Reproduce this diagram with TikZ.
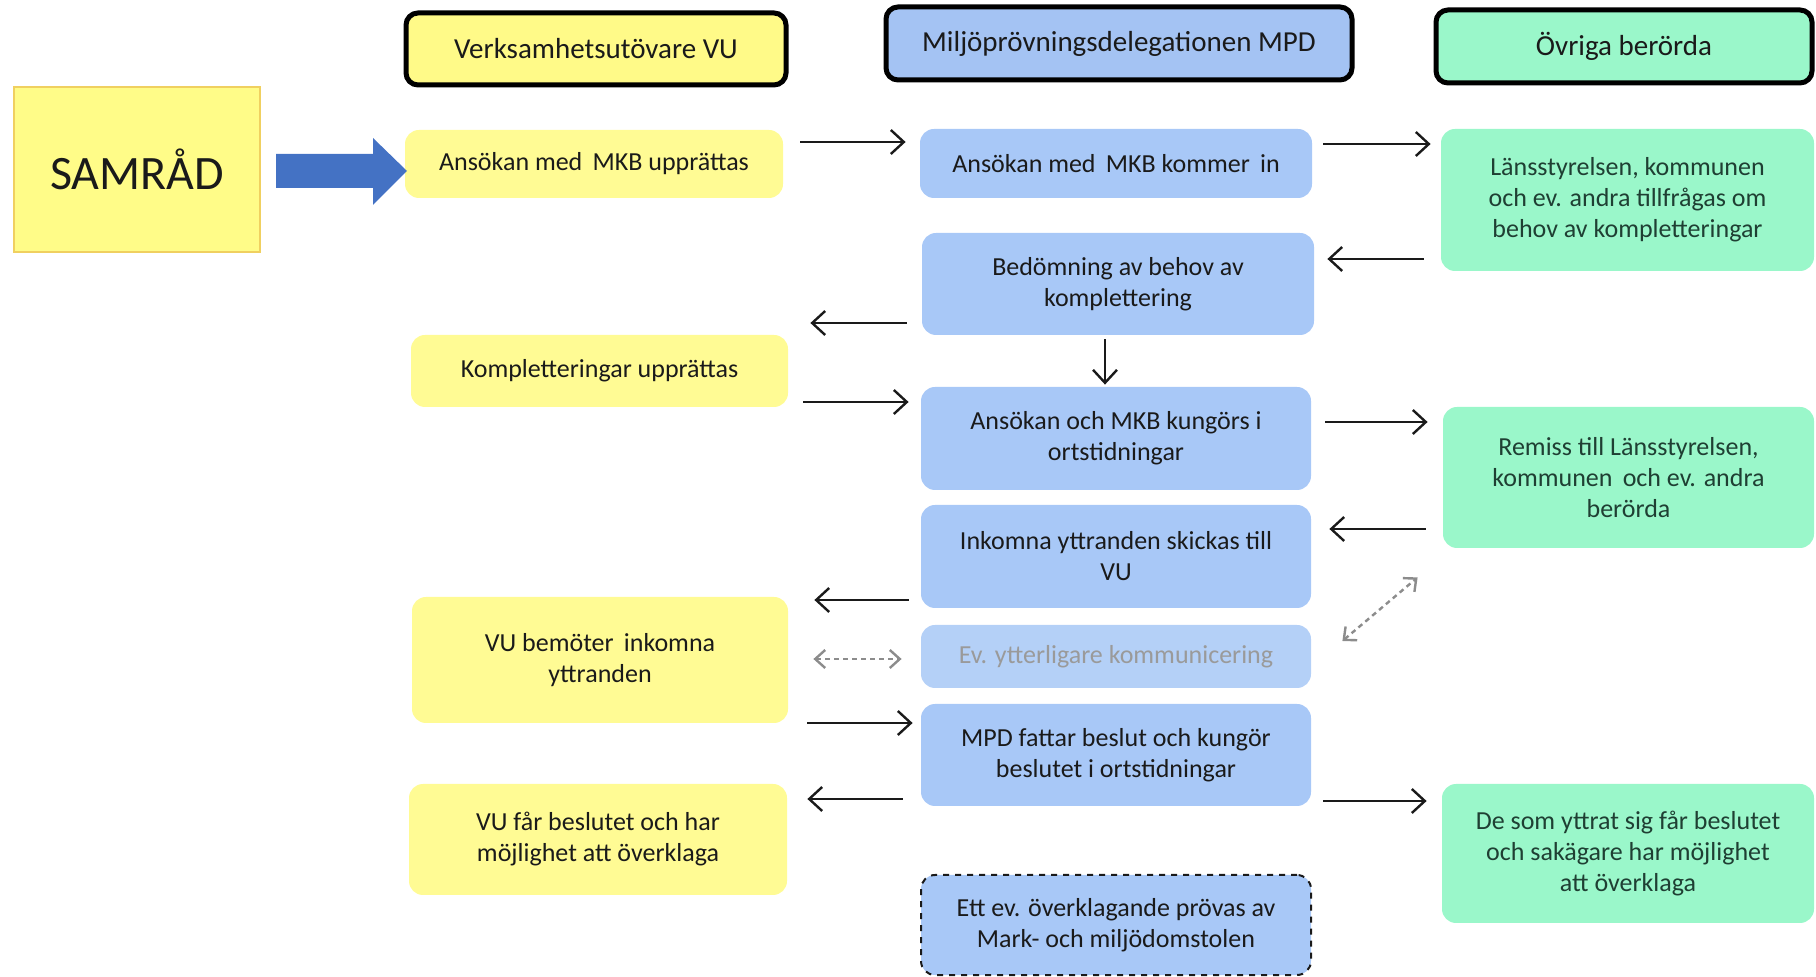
\documentclass[tikz,border=0pt]{standalone}
\usepackage{fontspec}
\setmainfont{Carlito}
\usetikzlibrary{arrows.meta}
\definecolor{yel}{HTML}{FFFB94}
\definecolor{yelh}{HTML}{FFFA88}
\definecolor{samf}{HTML}{FFFC88}
\definecolor{samd}{HTML}{F0D060}
\definecolor{blu}{HTML}{A8C8F7}
\definecolor{bluh}{HTML}{A4C3F3}
\definecolor{blul}{HTML}{B4D0F7}
\definecolor{grn}{HTML}{9AF7CA}
\definecolor{txt}{HTML}{1A1A1A}
\definecolor{gtxt}{HTML}{1F3F33}
\definecolor{gry}{HTML}{9A9A9A}
\definecolor{dgry}{HTML}{8C8C8C}
\definecolor{bigarrow}{HTML}{4472C4}
\begin{document}
\begin{tikzpicture}[x=0.5pt,y=-0.5pt,
  sz/.style 2 args={minimum width={#1*0.5pt}, minimum height={#2*0.5pt}},
  base/.style={rounded corners=7pt, align=center, inner sep=0pt, text=txt,
    font=\fontsize{13}{15.5}\selectfont},
  ybox/.style={base, fill=yel},
  bbox/.style={base, fill=blu},
  gbox/.style={base, fill=grn, text=gtxt},
  hdr/.style={draw=black, line width=2.5pt, rounded corners=6pt, align=center,
    inner sep=0pt, text=txt, font=\fontsize{14.5}{17}\selectfont},
  arr/.style={line width=1.2pt, draw=txt, -{Straight Barb[length=6.5pt,width=12pt,line width=1.2pt]}},
  darr/.style={line width=1.2pt, draw=dgry, dash pattern=on 2.5pt off 2pt,
    {Straight Barb[length=5pt,width=9pt,line width=1.2pt]}-{Straight Barb[length=5pt,width=9pt,line width=1.2pt]}}
]
\useasboundingbox (0,0) rectangle (1816,977);

% headers
\node[hdr, fill=yelh, sz={380}{72}] (hvu) at (596,49) {Verksamhetsutövare VU};
\node[hdr, fill=bluh, sz={466}{73}] (hmpd) at (1119,43.5) {Miljöprövningsdelegationen MPD};
\node[hdr, fill=grn, sz={376}{73}] (hov) at (1624,46.5) {Övriga berörda};

% SAMRÅD
\node[draw=samd, fill=samf, line width=1pt, sz={246}{165}, inner sep=0pt, text=txt,
  font=\fontsize{24}{28}\selectfont] (samrad) at (137,169.5) {SAMRÅD};

% left column
\node[ybox, sz={378}{68}] (vu1) at (594,164) {Ansökan med\, MKB upprättas};
\node[ybox, sz={377}{72}] (vu2) at (599.5,371) {Kompletteringar upprättas};
\node[ybox, sz={376}{126}] (vu3) at (600,660) {VU bemöter\, inkomna\\yttranden};
\node[ybox, sz={378}{111}] (vu4) at (598,839.5) {VU får beslutet och har\\möjlighet att överklaga};

% middle column
\node[bbox, sz={392}{69}] (m1) at (1116,163.5) {Ansökan med\, MKB kommer\, in};
\node[bbox, sz={392}{102}] (m2) at (1118,284) {Bedömning av behov av\\komplettering};
\node[bbox, sz={390}{103}] (m3) at (1116,438.5) {Ansökan och MKB kungörs i\\ortstidningar};
\node[bbox, sz={390}{103}] (m4) at (1116,556.5) {Inkomna yttranden skickas till\\VU};
\node[bbox, fill=blul, text=gry, sz={390}{63}] (m5) at (1116,656.5) {Ev. ytterligare kommunicering};
\node[bbox, sz={390}{102}] (m6) at (1116,755) {MPD fattar beslut och kungör\\beslutet i ortstidningar};
\node[bbox, draw=txt, dashed, line width=1pt, sz={390}{100}] (m7) at (1116,925) {Ett ev. överklagande prövas av\\Mark- och miljödomstolen};

% right column
\node[gbox, sz={373}{142}] (g1) at (1627.5,200) {Länsstyrelsen, kommunen\\och ev. andra tillfrågas om\\behov av kompletteringar};
\node[gbox, sz={371}{141}] (g2) at (1628.5,477.5) {Remiss till Länsstyrelsen,\\kommunen\, och ev. andra\\berörda};
\node[gbox, sz={372}{139}] (g3) at (1628,853.5) {De som yttrat sig får beslutet\\och sakägare har möjlighet\\att överklaga};

% big blue arrow
\fill[bigarrow] ([shift={(15,-15.5)}]samrad.east) -- ++(97,0) -- ++(0,-16) -- ++(34,33)
  -- ++(-34,34) -- ++(0,-17) -- ++(-97,0) -- cycle;

% connectors
\draw[arr] ([shift={(17,-22)}]vu1.east) -- ([shift={(-14,-21.5)}]m1.west);
\draw[arr] ([shift={(11,-19.5)}]m1.east) -- ([shift={(-10,-56)}]g1.west);
\draw[arr] ([shift={(-17,59)}]g1.west) -- ([shift={(13,-25)}]m2.east);
\draw[arr] ([shift={(-15,39)}]m2.west) -- ([shift={(22,-48)}]vu2.east);
\draw[arr] ([shift={(-13,4)}]m2.south) -- ([shift={(-11,-2)}]m3.north);
\draw[arr] ([shift={(15,31)}]vu2.east) -- ([shift={(-12,-36.5)}]m3.west);
\draw[arr] ([shift={(14,-16.5)}]m3.east) -- ([shift={(-15,-55.5)}]g2.west);
\draw[arr] ([shift={(-17,51.5)}]g2.west) -- ([shift={(18,-27.5)}]m4.east);
\draw[darr] ([shift={(31,-15.5)}]m5.east) -- ([shift={(-25,29)}]g2.south west);
\draw[arr] ([shift={(-12,43.5)}]m4.west) -- ([shift={(26,-60)}]vu3.east);
\draw[darr] ([shift={(25,-1)}]vu3.east) -- ([shift={(-19,2.5)}]m5.west);
\draw[arr] ([shift={(19,63)}]vu3.east) -- ([shift={(-8,-32)}]m6.west);
\draw[arr] ([shift={(-18,44)}]m6.west) -- ([shift={(20,-40.5)}]vu4.east);
\draw[arr] ([shift={(12,46)}]m6.east) -- ([shift={(-15,-52.5)}]g3.west);
\end{tikzpicture}
\end{document}
